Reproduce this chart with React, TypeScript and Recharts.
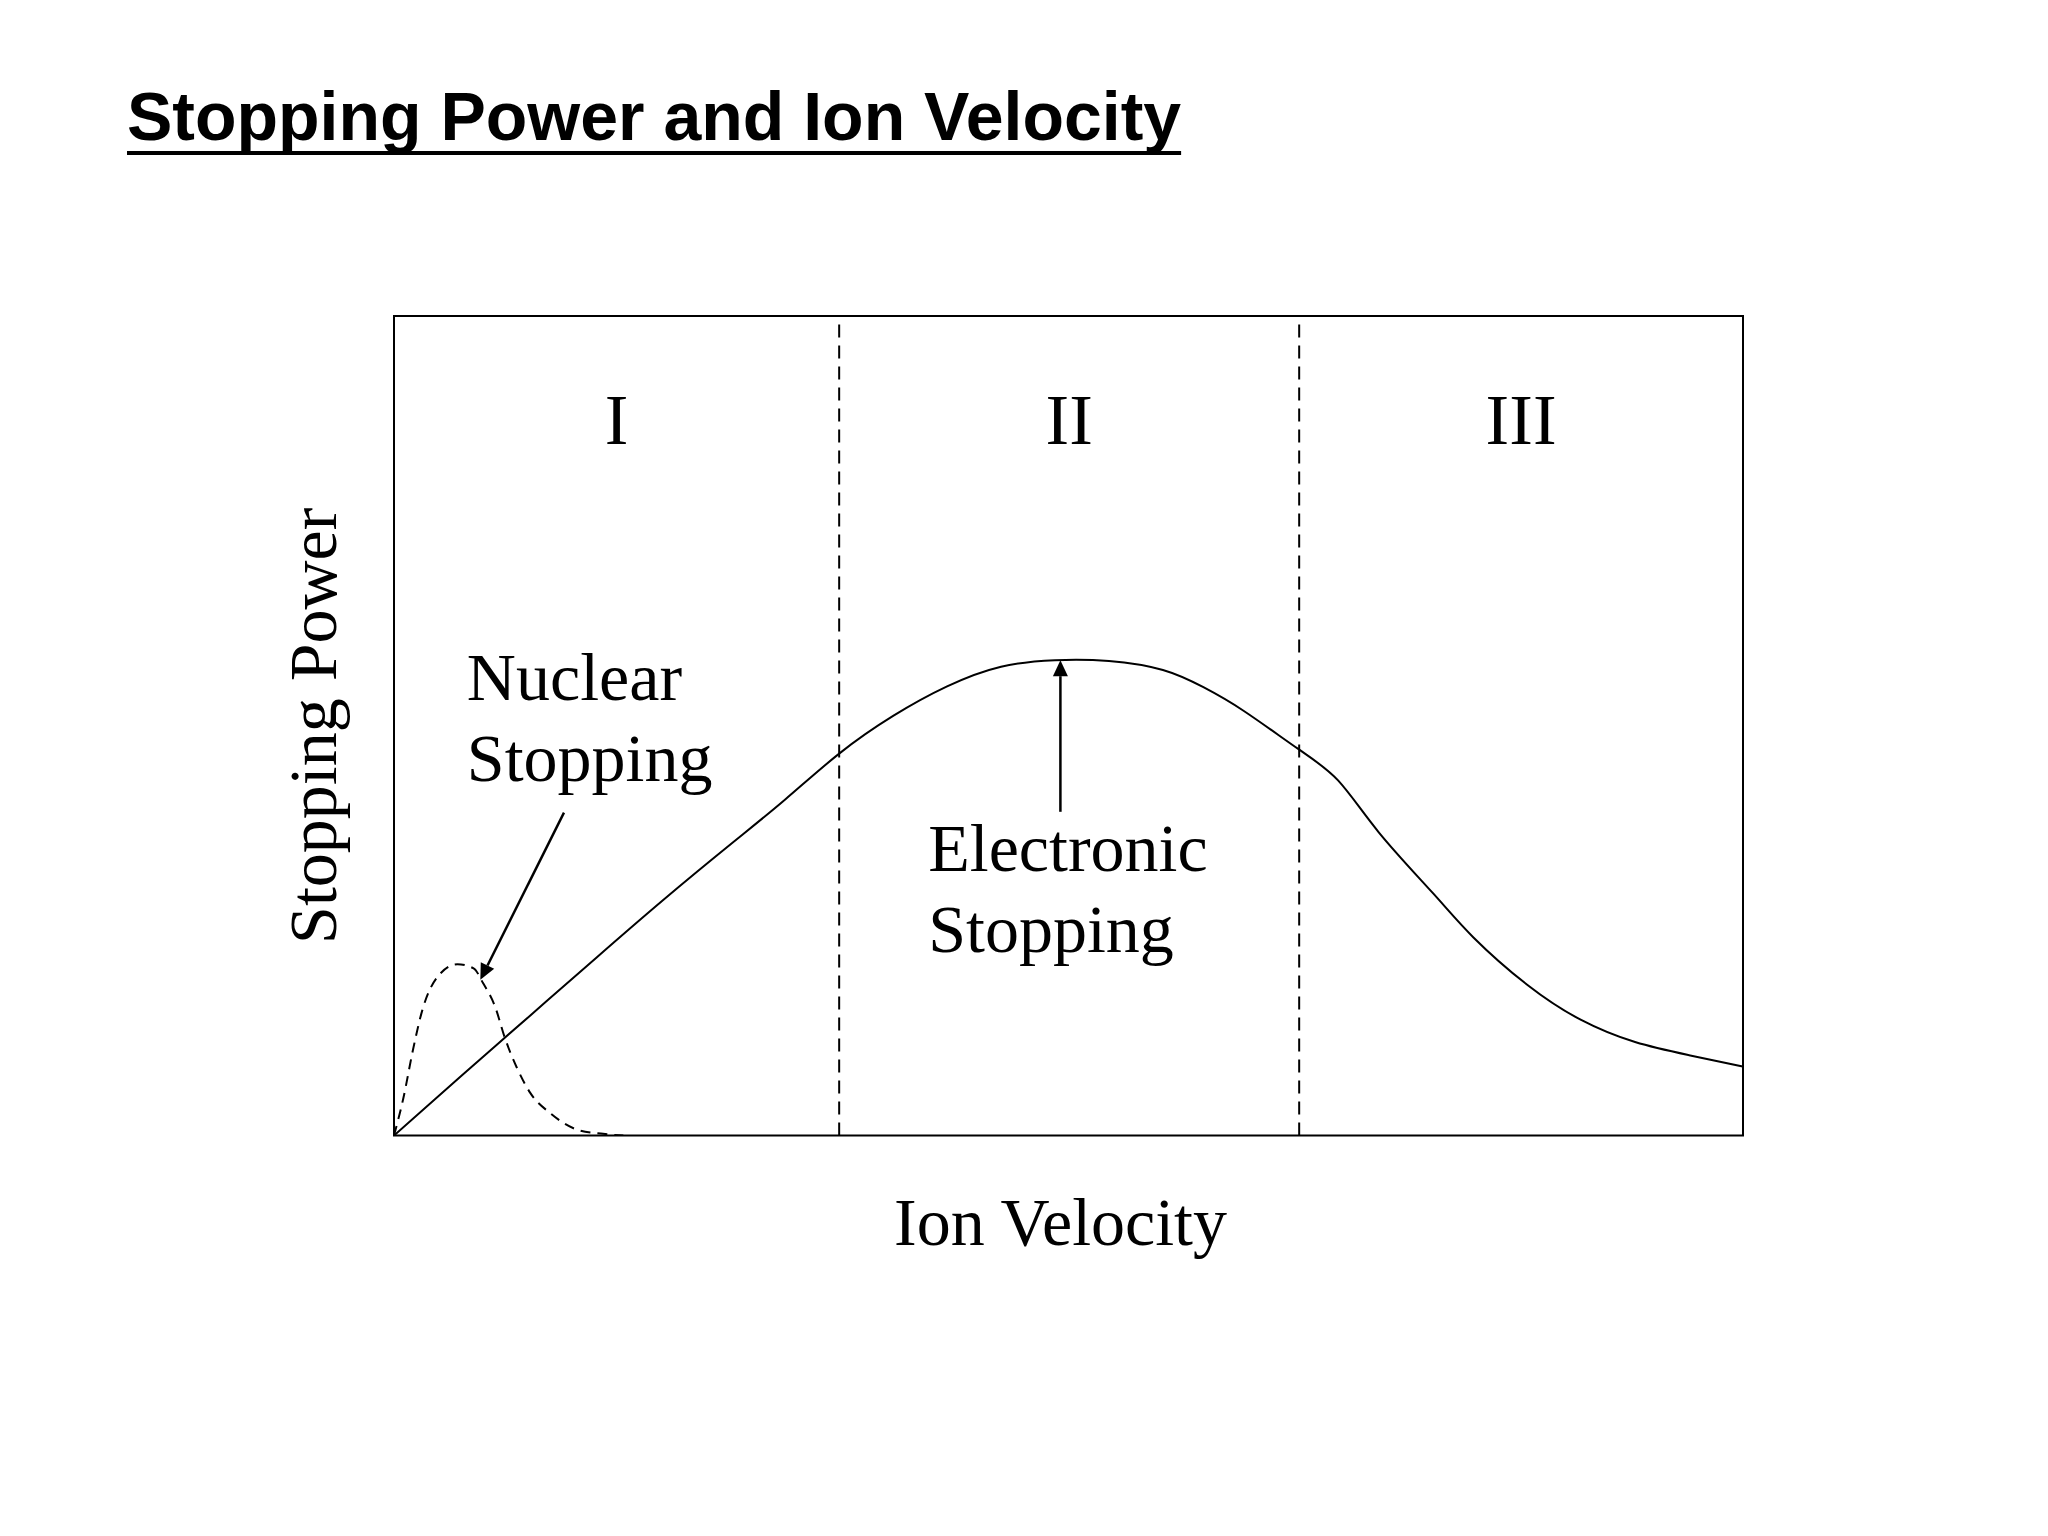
import React from "react";
import { LineChart, Line, XAxis, YAxis, ReferenceLine, ReferenceArea, ReferenceDot } from "recharts";

// electronic stopping curve (velocity 0..100, power 0..100)
const velocity = [0, 5, 10, 15, 20, 25, 29, 33, 37, 41, 45, 49, 53, 57, 60, 63, 67, 70, 73, 77, 80, 84, 88, 92, 96, 100];
const electronic = [0, 7.3, 14.5, 21.7, 28.8, 35.6, 41.0, 46.6, 51.2, 54.8, 57.2, 58.0, 57.9, 56.8, 54.7, 51.8, 47.2, 43.3, 37.0, 29.6, 24.2, 18.4, 14.1, 11.4, 9.8, 8.4];

// nuclear stopping bump (dashed)
const nuclearVelocity = [0, 0.7, 1.4, 2.1, 3.2, 4.7, 5.9, 6.6, 7.5, 8.2, 9.1, 10.1, 11.6, 13.6, 15.5, 17];
const nuclear = [0, 4.6, 10.4, 15.3, 19.3, 20.9, 20.4, 18.6, 15.7, 12.0, 8.3, 5.2, 2.7, 0.7, 0.2, 0];

const regionBounds = [0, 33, 67.1, 100];
const regionLabels = ["I", "II", "III"];

const electronicData = velocity.map((x, i) => ({ x, y: electronic[i] }));
const nuclearData = nuclearVelocity.map((x, i) => ({ x, y: nuclear[i] }));

// annotations
const arrows = [
  [{ x: 12.6, y: 39.4 }, { x: 6.4, y: 19.0 }],
  [{ x: 49.4, y: 39.5 }, { x: 49.4, y: 58.0 }],
];
const notes = [
  { x: 5.4, y: 53.1, lines: ["Nuclear", "Stopping"] },
  { x: 39.6, y: 32.3, lines: ["Electronic", "Stopping"] },
];

const SERIF = "'Liberation Serif', 'Times New Roman', serif";

const Arrow = (props: any) => {
  const { x1, y1, x2, y2 } = props;
  const a = Math.atan2(y2 - y1, x2 - x1);
  const len = 16;
  const half = 7.5;
  const bx = x2 - len * Math.cos(a);
  const by = y2 - len * Math.sin(a);
  const px = -Math.sin(a) * half;
  const py = Math.cos(a) * half;
  return (
    <g>
      <line x1={x1} y1={y1} x2={bx} y2={by} stroke="#000" strokeWidth={2.5} />
      <polygon points={`${x2},${y2} ${bx + px},${by + py} ${bx - px},${by - py}`} fill="#000" />
    </g>
  );
};

export default function App() {
  return (
    <div style={{ position: "absolute", left: 0, top: 0, width: 2048, height: 1536, background: "#fff" }}>
      <div
        style={{
          position: "absolute",
          left: 127,
          top: 82,
          fontFamily: "'Liberation Sans', Arial, sans-serif",
          fontWeight: 700,
          fontSize: 68,
          lineHeight: 1,
          whiteSpace: "nowrap",
          textDecoration: "underline",
          textDecorationThickness: 4,
          textUnderlineOffset: 11,
          textDecorationSkipInk: "none",
        }}
      >
        Stopping Power and Ion Velocity
      </div>
      <div style={{ position: "absolute", left: 0, top: 0 }}>
        <LineChart width={2048} height={1536} margin={{ top: 316, right: 305, bottom: 280.5, left: 284 }}>
          <XAxis
            type="number"
            dataKey="x"
            domain={[0, 100]}
            allowDataOverflow
            tick={false}
            tickLine={false}
            axisLine={false}
            height={120}
            label={(p: any) => (
              <text
                x={p.viewBox.x + p.viewBox.width / 2 - 8}
                y={p.viewBox.y + 109.5}
                textAnchor="middle"
                fontFamily={SERIF}
                fontSize={68}
                fill="#000"
              >
                Ion Velocity
              </text>
            )}
          />
          <YAxis
            type="number"
            domain={[0, 100]}
            allowDataOverflow
            tick={false}
            tickLine={false}
            axisLine={false}
            width={110}
            label={(p: any) => {
              const cx = p.viewBox.x + 52;
              const cy = p.viewBox.y + p.viewBox.height / 2;
              return (
                <text
                  x={cx}
                  y={cy}
                  transform={`rotate(-90, ${cx}, ${cy})`}
                  textAnchor="middle"
                  fontFamily={SERIF}
                  fontSize={68}
                  fill="#000"
                >
                  Stopping Power
                </text>
              );
            }}
          />
          <ReferenceArea x1={0} x2={100} y1={0} y2={100} fill="none" stroke="#000" strokeWidth={2} />
          {regionBounds.slice(1, -1).map((b) => (
            <ReferenceLine key={b} x={b} stroke="#000" strokeWidth={2} strokeDasharray="13 8" />
          ))}
          {regionLabels.map((r, i) => (
            <ReferenceDot
              key={r}
              x={(regionBounds[i] + regionBounds[i + 1]) / 2}
              y={84.4}
              shape={(p: any) => (
                <text x={p.cx} y={p.cy} textAnchor="middle" fontFamily={SERIF} fontSize={71} fill="#000">
                  {r}
                </text>
              )}
            />
          ))}
          <Line
            data={electronicData}
            dataKey="y"
            type="natural"
            stroke="#000"
            strokeWidth={2}
            dot={false}
            activeDot={false}
            isAnimationActive={false}
          />
          <Line
            data={nuclearData}
            dataKey="y"
            type="monotone"
            stroke="#000"
            strokeWidth={2}
            strokeDasharray="10 7"
            dot={false}
            activeDot={false}
            isAnimationActive={false}
          />
          {arrows.map((seg, i) => (
            <ReferenceLine key={i} segment={seg} shape={Arrow} />
          ))}
          {notes.map((n) => (
            <ReferenceDot
              key={n.lines[0]}
              x={n.x}
              y={n.y}
              shape={(p: any) => (
                <text x={p.cx} y={p.cy} fontFamily={SERIF} fontSize={68} fill="#000">
                  {n.lines.map((l, j) => (
                    <tspan key={l} x={p.cx} dy={j === 0 ? 0 : 81}>
                      {l}
                    </tspan>
                  ))}
                </text>
              )}
            />
          ))}
        </LineChart>
      </div>
    </div>
  );
}
